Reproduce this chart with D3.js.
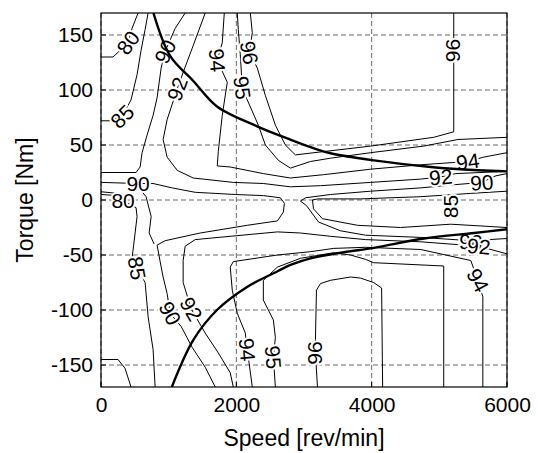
<!DOCTYPE html>
<html>
<head>
<meta charset="utf-8">
<script src="https://cdnjs.cloudflare.com/ajax/libs/d3/7.8.5/d3.min.js"></script>
<style>
body { margin: 0; background: #fff; }
text { font-family: "Liberation Sans", Arial, sans-serif; fill: #000; }
</style>
</head>
<body>
<svg width="538" height="453"></svg>
<script>
// ticks
var speedTicks = [0, 2000, 4000, 6000];
var torqueTicks = [-150, -100, -50, 0, 50, 100, 150];

// torque limit curves [speed rpm, torque Nm]
var limitMotor = [[775,170],[1022,131],[1367,108],[1714,85],[2307,67],[2751,56],[3096,48],[3393,42.5],[4034,36],[4874,30],[5566,27],[6000,26]];
var limitGen = [[1047,-170],[1367,-127],[1714,-100],[2159,-79],[2603,-65],[2800,-59],[3096,-53],[3590,-47.5],[4034,-43.5],[4775,-35],[5515,-30],[6000,-26.6]];

// efficiency contours, one list of polylines per level
var eff80 = [
  [[548,170],[459,156],[400,143],[178,130],[0,130]],
  [[0,7.5],[250,6],[330,1],[250,4],[0,5]],
  [[0,-145],[252,-145],[355,-153],[444,-170]]
];
var eff85 = [
  [[696,170],[652,155],[592,136],[533,114],[444,91],[311,76],[133,72],[0,72]],
  [[400,-3],[518,-7],[533,-15],[504,-30],[459,-53],[533,-62],[652,-75],[696,-106],[770,-136],[800,-170]],
  [[600,8],[666,3],[741,-15],[711,-30],[785,-40]],
  [[6000,8],[5465,6],[4724,3],[3836,1],[3200,1],[3125,0],[3140,-8],[3273,-17],[3791,-23],[4428,-25],[5169,-22],[6000,-25]]
];
var eff90 = [
  [[1244,170],[1096,156],[948,135],[889,120],[829,93],[770,77],[681,59],[607,43],[578,30],[518,25],[0,25]],
  [[0,16],[548,15],[770,15],[1052,11],[1392,7],[1985,5],[2399,4],[2651,2],[2710,-3],[2695,-11],[2607,-19],[2162,-23],[1466,-30],[948,-37],[829,-41],[874,-56],[918,-70],[977,-85],[1022,-103],[1185,-115],[1348,-134],[1540,-152],[1688,-170]],
  [[6000,24],[5835,22],[5628,16],[5243,14],[4724,11],[3984,8],[3391,5],[3021,2],[2947,-1],[3036,-5],[3214,-20],[3540,-28],[3910,-32],[4724,-34],[5465,-37],[6000,-35]]
];
var eff92 = [
  [[1540,170],[1348,138],[1214,116],[1126,101],[977,73],[918,55],[977,39],[1126,27],[1363,20],[1955,16],[2399,15],[2799,12],[3243,13],[3984,16],[4724,19],[5021,21],[5243,24],[6000,26]],
  [[1955,-170],[1910,-157],[1733,-139],[1540,-121],[1333,-99],[1214,-75],[1214,-55],[1244,-42],[1392,-36],[1910,-33],[2607,-29],[2947,-30],[3391,-33],[3910,-36],[4724,-38],[5583,-42],[6000,-49]]
];
var eff94 = [
  [[1822,170],[1792,143],[1718,127],[1866,107],[1792,77],[1733,44],[1718,31],[1910,30],[2399,24],[2799,20],[3288,23],[3984,28],[4724,32],[5420,35],[5657,39],[6000,43]],
  [[2236,-170],[2162,-136],[2133,-121],[2014,-103],[1940,-82],[1910,-61],[1955,-56],[2607,-50],[3095,-47],[3436,-44],[3910,-43],[4724,-45],[5465,-55],[5569,-73],[5643,-88],[5643,-170]]
];
var eff95 = [
  [[2014,170],[2029,155],[2059,132],[2088,102],[2162,91],[2325,68],[2429,50],[2622,36],[2799,29],[3095,35],[3391,38],[3984,43],[4769,49],[5273,55],[6000,57]],
  [[2577,-170],[2547,-143],[2577,-125],[2547,-109],[2399,-91],[2399,-73],[2607,-61],[2947,-53],[3436,-48],[3688,-50],[3910,-54],[4028,-57],[5065,-60],[5065,-170]]
];
var eff96 = [
  [[2207,170],[2236,152],[2192,134],[2310,120],[2429,95],[2577,68],[2725,50],[2873,41],[3288,44],[3984,49],[4917,57],[5213,62],[5213,170]],
  [[3199,-170],[3169,-139],[3169,-127],[3184,-82],[3243,-76],[3391,-73],[3688,-70],[3836,-71],[4028,-75],[4147,-80],[4162,-170]]
];

// contour labels: text, speed, torque, angle
var contourLabels = [
  ["80", 400, 143, -55], ["85", 311, 76, -45], ["90", 948, 135, -65], ["92", 1126, 101, -70],
  ["94", 1718, 127, 85], ["96", 2192, 134, 80], ["95", 2088, 102, 82], ["96", 5213, 136, 90],
  ["94", 5420, 35, -8], ["92", 5021, 21, -5], ["90", 5628, 16, -4], ["85", 5169, -6, -90],
  ["80", 326, 0, 0], ["90", 548, 15, 0], ["85", 533, -62, 80], ["90", 1022, -103, 62],
  ["92", 1333, -99, 60], ["94", 2162, -136, 85], ["95", 2547, -143, 85], ["96", 3169, -139, 90],
  ["94", 5569, -73, 62], ["90", 5465, -38, 3], ["92", 5583, -42, 5]
];

var svg = d3.select("svg"),
margin = {top: 13, bottom: 66, left: 101, right: 31},
width = +svg.attr("width") - margin.left - margin.right,
height = +svg.attr("height") - margin.top - margin.bottom,
g = svg.append("g").attr("transform", "translate(" + margin.left + "," + margin.top + ")");

var x = d3.scaleLinear().domain([0, 6000]).range([0, width]);
var y = d3.scaleLinear().domain([-170, 170]).range([height, 0]);

// clip for the plot box
g.append("clipPath").attr("id", "box")
  .append("rect").attr("width", width).attr("height", height);

// dashed grid
g.selectAll(".gx").data(speedTicks).enter().append("line")
  .attr("x1", function(d) { return x(d); }).attr("x2", function(d) { return x(d); })
  .attr("y1", 0).attr("y2", height)
  .attr("stroke", "#444").attr("stroke-width", 0.8).attr("stroke-dasharray", "5,3");
g.selectAll(".gy").data(torqueTicks).enter().append("line")
  .attr("y1", function(d) { return y(d); }).attr("y2", function(d) { return y(d); })
  .attr("x1", 0).attr("x2", width)
  .attr("stroke", "#444").attr("stroke-width", 0.8).attr("stroke-dasharray", "5,3");

var line = d3.line()
  .x(function(d) { return x(d[0]); })
  .y(function(d) { return y(d[1]); });

var plot = g.append("g").attr("clip-path", "url(#box)");

// contour lines
[eff80, eff85, eff90, eff92, eff94, eff95, eff96].forEach(function(level) {
  plot.selectAll(null).data(level).enter().append("path")
    .attr("d", line)
    .attr("fill", "none")
    .attr("stroke", "#000")
    .attr("stroke-width", 1)
    .attr("stroke-linejoin", "round");
});

// labels on the contours, white halo breaks the line
plot.selectAll(".lab").data(contourLabels).enter().append("text")
  .attr("transform", function(d) { return "translate(" + x(d[1]) + "," + y(d[2]) + ") rotate(" + d[3] + ")"; })
  .attr("text-anchor", "middle")
  .attr("dy", "0.36em")
  .style("font-size", "21px")
  .style("stroke", "#fff")
  .style("stroke-width", 4)
  .style("paint-order", "stroke")
  .text(function(d) { return d[0]; });

// torque limit curves on top
var smooth = d3.line()
  .x(function(d) { return x(d[0]); })
  .y(function(d) { return y(d[1]); })
  .curve(d3.curveCatmullRom);
[limitMotor, limitGen].forEach(function(c) {
  plot.append("path").datum(c)
    .attr("d", smooth)
    .attr("fill", "none")
    .attr("stroke", "#000")
    .attr("stroke-width", 2.4);
});

// axes
g.append("g")
  .attr("transform", "translate(0," + height + ")")
  .call(d3.axisBottom(x).tickValues(speedTicks).tickSize(0).tickPadding(10).tickFormat(d3.format("d")))
  .call(function(a) { a.select(".domain").remove(); a.selectAll("text").style("font-size", "21px").attr("fill", "#000"); });
g.append("g")
  .call(d3.axisLeft(y).tickValues(torqueTicks).tickSize(0).tickPadding(8).tickFormat(function(d) { return d < 0 ? "-" + Math.abs(d) : d; }))
  .call(function(a) { a.select(".domain").remove(); a.selectAll("text").style("font-size", "21px").attr("fill", "#000"); });

// small inward ticks
g.selectAll(".tx").data(speedTicks).enter().append("line")
  .attr("x1", function(d) { return x(d); }).attr("x2", function(d) { return x(d); })
  .attr("y1", height).attr("y2", height - 5).attr("stroke", "#000");
g.selectAll(".ty").data(torqueTicks).enter().append("line")
  .attr("y1", function(d) { return y(d); }).attr("y2", function(d) { return y(d); })
  .attr("x1", 0).attr("x2", 5).attr("stroke", "#000");

// frame
g.append("rect").attr("width", width).attr("height", height)
  .attr("fill", "none").attr("stroke", "#000").attr("stroke-width", 1.2);

// axis titles
svg.append("text")
  .attr("x", margin.left + width / 2).attr("y", 446)
  .attr("text-anchor", "middle").style("font-size", "23px")
  .text("Speed [rev/min]");
svg.append("text")
  .attr("transform", "translate(33," + (margin.top + height / 2) + ") rotate(-90)")
  .attr("text-anchor", "middle").style("font-size", "23px")
  .text("Torque [Nm]");
</script>
</body>
</html>
